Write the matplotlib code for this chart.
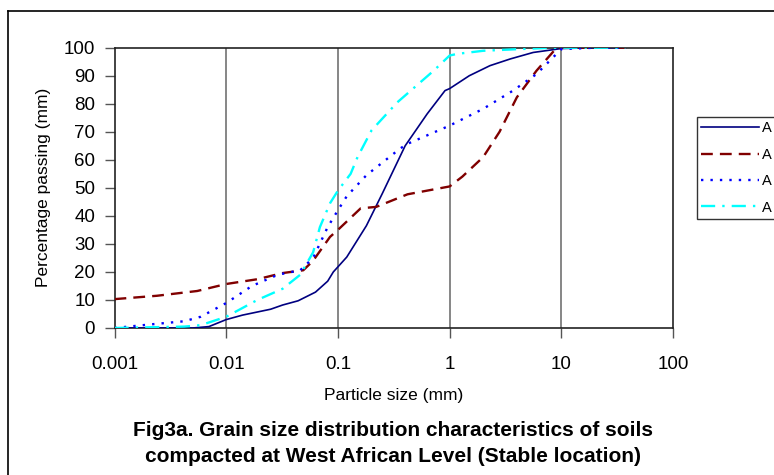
import matplotlib
matplotlib.use('Agg')
import matplotlib.pyplot as plt
from matplotlib.lines import Line2D
from matplotlib.ticker import FixedLocator, NullLocator, FixedFormatter

plt.rcParams['font.family'] = ['Liberation Sans', 'DejaVu Sans']

# ---- data (particle size in mm, % passing) ----
size_a1 = [0.001, 0.002, 0.005, 0.007, 0.01, 0.014, 0.025, 0.032, 0.044, 0.063, 0.081, 0.091,
           0.1, 0.12, 0.18, 0.25, 0.4, 0.63, 0.91, 1.0, 1.5, 2.3, 3.5, 5.6, 10, 20, 37.5]
pass_a1 = [0, 0, 0, 0.5, 3, 4.6, 6.7, 8.2, 9.7, 12.8, 16.7, 20,
           21.8, 25.3, 36.5, 48, 65, 76.4, 84.7, 85.4, 90, 93.6, 96, 98.3, 99.7, 100, 100]

size_a2 = [0.001, 0.0024, 0.0055, 0.01, 0.019, 0.032, 0.049, 0.06, 0.085, 0.1, 0.16, 0.22,
           0.42, 1.0, 1.3, 2.0, 2.8, 4.0, 6.0, 9.1, 20, 37.5]
pass_a2 = [10.3, 11.5, 13.2, 15.7, 17.4, 19.6, 20.6, 24, 32.5, 35, 42.7, 43.2,
           47.7, 50.5, 54, 61, 70, 82.3, 91.8, 100, 100, 100]

size_a3 = [0.001, 0.0015, 0.0024, 0.0042, 0.0059, 0.01, 0.017, 0.029, 0.046, 0.06, 0.081,
           0.1, 0.12, 0.18, 0.36, 0.42, 1.0, 2.0, 3.7, 6.0, 10, 20, 37.5]
pass_a3 = [0, 0.7, 1.5, 2.4, 4, 8.9, 15, 19, 20.6, 25, 36,
           42, 47, 54.5, 64, 65.7, 72.2, 78.2, 84.7, 90.6, 99.5, 100, 100]

size_a4 = [0.001, 0.0042, 0.0059, 0.01, 0.019, 0.032, 0.046, 0.06, 0.069, 0.085, 0.1, 0.13,
           0.15, 0.2, 0.34, 0.72, 1.0, 1.17, 2.0, 4.2, 8.5, 20, 37.5]
pass_a4 = [0, 0.5, 1, 4, 10, 14, 19, 27, 36, 44.5, 49, 55,
           61, 70.5, 80.5, 91.8, 97.2, 97.8, 98.9, 99.5, 100, 100, 100]

# legend entries as far as they are visible in the reference
labels = ['A', 'A', 'A', 'A']
x_ticks = [0.001, 0.01, 0.1, 1, 10, 100]
x_ticklabels = ['0.001', '0.01', '0.1', '1', '10', '100']
y_ticks = list(range(0, 101, 10))

fig = plt.figure(figsize=(7.74, 4.75), dpi=100)
ax = fig.add_axes([114.5 / 774, 1 - 328 / 475, (673 - 114.5) / 774, (328 - 47.7) / 475])

# outer chart-area border (top and left edges visible)
fig.add_artist(Line2D([8 / 774, 1.01], [1 - 10.5 / 475] * 2, transform=fig.transFigure,
                      color='black', lw=1.2))
fig.add_artist(Line2D([8 / 774] * 2, [-0.01, 1 - 10.5 / 475], transform=fig.transFigure,
                      color='black', lw=1.2))

for xv in x_ticks[1:-1]:
    ax.axvline(xv, color='#666666', lw=1.1, zorder=1)

ax.plot(size_a1, pass_a1, color='#000080', lw=1.2, ls='-', label=labels[0], zorder=3)
ax.plot(size_a2, pass_a2, color='#800000', lw=1.7, ls=(0, (5, 3)), label=labels[1], zorder=3)
ax.plot(size_a3, pass_a3, color='#0000FF', lw=1.7, ls=(0, (1, 3)), label=labels[2], zorder=3)
ax.plot(size_a4, pass_a4, color='#00FFFF', lw=1.7, ls=(0, (6, 3, 1, 3)), label=labels[3], zorder=3)

ax.set_xscale('log')
ax.set_xlim(0.001, 100)
ax.set_ylim(0, 100)
ax.xaxis.set_major_locator(FixedLocator(x_ticks))
ax.xaxis.set_major_formatter(FixedFormatter(x_ticklabels))
ax.xaxis.set_minor_locator(NullLocator())
ax.set_yticks(y_ticks)
ax.tick_params(axis='both', direction='out', length=7, width=1, color='#555555',
               labelsize=13.5)
ax.tick_params(axis='x', pad=13)
ax.tick_params(axis='y', pad=7)

for s in ax.spines.values():
    s.set_color('#222222')
    s.set_linewidth(1.2)

ax.set_xlabel('Particle size (mm)', fontsize=12.5, labelpad=11)
ax.set_ylabel('Percentage passing (mm)', fontsize=12.5, labelpad=9)

leg = ax.legend(loc='upper left', bbox_to_anchor=(697 / 774, 1 - 117 / 475),
                bbox_transform=fig.transFigure, frameon=True, fancybox=False,
                edgecolor='black', fontsize=10.5, handlelength=3.95, handletextpad=0.2,
                labelspacing=0.85, borderpad=0.3, borderaxespad=0)
leg.get_frame().set_linewidth(1.0)

fig.text(0.508, 1 - 430 / 475, 'Fig3a. Grain size distribution characteristics of soils',
         ha='center', va='center', fontsize=15, fontweight='bold')
fig.text(0.508, 1 - 456 / 475, 'compacted at West African Level (Stable location)',
         ha='center', va='center', fontsize=15, fontweight='bold')

fig.savefig('out.png', dpi=100)
